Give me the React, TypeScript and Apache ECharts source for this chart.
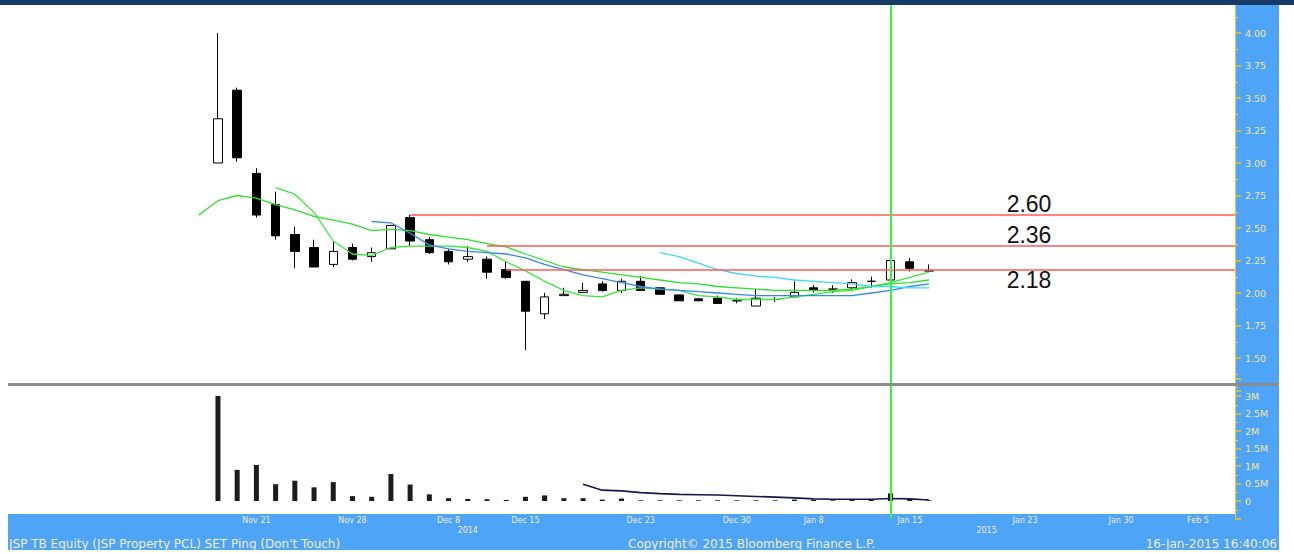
import React, { useEffect, useRef } from "react";
import * as echarts from "echarts";

// ---------- categories (trading days) ----------
const leadDates = ["Nov 5", "Nov 6", "Nov 7", "Nov 10", "Nov 11", "Nov 12", "Nov 13", "Nov 14", "Nov 17", "Nov 18"];
const tradeDates = [
  "Nov 19", "Nov 20", "Nov 21", "Nov 24", "Nov 25", "Nov 26", "Nov 27", "Nov 28",
  "Dec 1", "Dec 2", "Dec 3", "Dec 4", "Dec 8", "Dec 9", "Dec 11", "Dec 12", "Dec 15", "Dec 16",
  "Dec 17", "Dec 18", "Dec 19", "Dec 22", "Dec 23", "Dec 24", "Dec 25", "Dec 26", "Dec 29", "Dec 30",
  "Jan 5", "Jan 6", "Jan 7", "Jan 8", "Jan 9", "Jan 12", "Jan 13", "Jan 14", "Jan 15", "Jan 16",
];
const futureDates = [
  "Jan 19", "Jan 20", "Jan 21", "Jan 22", "Jan 23", "Jan 26", "Jan 27", "Jan 28", "Jan 29", "Jan 30",
  "Feb 2", "Feb 3", "Feb 4", "Feb 5", "Feb 6", "Feb 9",
];

// ---------- tick labels ----------
const dateTickLabels = ["Nov 21", "Nov 28", "Dec 8", "Dec 15", "Dec 23", "Dec 30", "Jan 8", "Jan 15", "Jan 23", "Jan 30", "Feb 5"];
const yearTickLabels: Record<string, string> = { "Dec 9": "2014", "Jan 21": "2015" };
const volumeTickLabels: Record<string, string> = { "0": "0", "0.5": "0.5M", "1": "1M", "1.5": "1.5M", "2": "2M", "2.5": "2.5M", "3": "3M" };

// ---------- OHLC (Nov 19 .. Jan 16) ----------
const opens = [3.0, 3.56, 2.92, 2.68, 2.45, 2.35, 2.22, 2.35, 2.28, 2.34, 2.58, 2.41, 2.32, 2.26, 2.26, 2.18, 2.09, 1.84, 1.98, 2.005, 2.07, 2.02, 2.09, 2.04, 1.985, 1.955, 1.96, 1.94, 1.9, 1.95, 1.97, 2.04, 2.03, 2.04, 2.09, 2.1, 2.24, 2.17];
const closes = [3.34, 3.04, 2.6, 2.44, 2.32, 2.2, 2.32, 2.26, 2.31, 2.52, 2.4, 2.31, 2.24, 2.28, 2.16, 2.12, 1.86, 1.97, 1.99, 2.02, 2.02, 2.09, 2.02, 1.99, 1.94, 1.94, 1.92, 1.94, 1.96, 1.95, 2.005, 2.02, 2.03, 2.08, 2.09, 2.25, 2.19, 2.17];
const lows = [3.0, 3.01, 2.58, 2.41, 2.19, 2.2, 2.2, 2.25, 2.24, 2.34, 2.36, 2.3, 2.22, 2.24, 2.11, 2.11, 1.56, 1.8, 1.98, 2.0, 2.01, 2.0, 2.02, 1.99, 1.94, 1.94, 1.92, 1.92, 1.9, 1.93, 1.97, 2.005, 2.0, 2.03, 2.04, 2.1, 2.165, 2.165];
const highs = [4.0, 3.58, 2.96, 2.78, 2.51, 2.41, 2.4, 2.38, 2.35, 2.52, 2.6, 2.43, 2.34, 2.36, 2.28, 2.24, 2.09, 2.0, 2.04, 2.08, 2.09, 2.11, 2.13, 2.04, 1.985, 1.96, 1.98, 1.96, 2.03, 1.97, 2.09, 2.06, 2.06, 2.105, 2.125, 2.31, 2.27, 2.22];

// ---------- volume (millions, Nov 19 .. Jan 16) ----------
const volumes = [3.0, 0.89, 1.03, 0.48, 0.58, 0.39, 0.54, 0.14, 0.12, 0.77, 0.47, 0.19, 0.08, 0.06, 0.05, 0.03, 0.12, 0.16, 0.08, 0.08, 0.04, 0.07, 0.02, 0.02, 0.02, 0.02, 0.02, 0.02, 0.02, 0.02, 0.04, 0.03, 0.02, 0.03, 0.03, 0.22, 0.06, 0.02];

// ---------- moving averages (Nov 18 .. Jan 16) ----------
const maSlow = [2.6, 2.71, 2.75, 2.73, 2.68, 2.64, 2.59, 2.56, 2.53, 2.48, 2.49, 2.48, 2.45, 2.43, 2.41, 2.38, 2.355, 2.3, 2.25, 2.2, 2.18, 2.16, 2.14, 2.12, 2.1, 2.08, 2.07, 2.05, 2.04, 2.03, 2.02, 2.02, 2.02, 2.02, 2.03, 2.05, 2.07, 2.08, 2.1];
const maFast = [null, null, null, null, 2.81, 2.76, 2.62, 2.4, 2.3, 2.29, 2.35, 2.36, 2.36, 2.36, 2.35, 2.32, 2.24, 2.17, 2.09, 2.02, 1.98, 1.97, 2.02, 2.04, 2.03, 2.02, 1.98, 1.97, 1.95, 1.95, 1.95, 1.97, 1.99, 2.01, 2.02, 2.05, 2.08, 2.12, 2.16];
const maMid = [null, null, null, null, null, null, null, null, null, 2.55, 2.54, 2.46, 2.37, 2.34, 2.32, 2.31, 2.3, 2.27, 2.22, 2.18, 2.14, 2.11, 2.08, 2.05, 2.03, 2.02, 2.01, 2.0, 1.99, 1.98, 1.98, 1.98, 1.98, 1.98, 1.98, 2.0, 2.02, 2.05, 2.07];
const maLong = [null, null, null, null, null, null, null, null, null, null, null, null, null, null, null, null, null, null, null, null, null, null, null, null, 2.31, 2.28, 2.23, 2.18, 2.15, 2.13, 2.12, 2.1, 2.09, 2.08, 2.07, 2.05, 2.05, 2.04, 2.04];
const volMa = [null, null, null, null, null, null, null, null, null, null, null, null, null, null, null, null, null, null, null, null, 0.48, 0.31, 0.29, 0.24, 0.21, 0.19, 0.18, 0.17, 0.15, 0.13, 0.11, 0.09, 0.06, 0.05, 0.05, 0.05, 0.07, 0.06, 0.03];

// ---------- price levels ----------
const levelValues = [2.6, 2.36, 2.18];
const levelStarts = ["Dec 3", "Dec 11", "Dec 12"];
const levelTexts = ["2.60", "2.36", "2.18"];
const levelLabelDy = [-11, -11, 10];
const levelLabelAt = "Jan 23";
const markerDate = "Jan 14";

const categories = [...leadDates, ...tradeDates, ...futureDates];
const lastCategory = categories[categories.length - 1];

function pad<T>(arr: T[], startName: string): (T | null)[] {
  const off = categories.indexOf(startName);
  return categories.map((_, i) => {
    const j = i - off;
    return j >= 0 && j < arr.length ? arr[j] : null;
  });
}

const candleData = pad(
  tradeDates.map((_, i) => [opens[i], closes[i], lows[i], highs[i]]),
  "Nov 19"
).map((d) => (d ? d : ["-", "-", "-", "-"]));
const volData = pad(volumes, "Nov 19").map((v) => (v == null ? "-" : v));

const BLUE = "#4ea4f6";
const AXIS_YEL = "#f2c230";
const LABEL_YEL = "#f3e6a2";
const CREAM = "#f1ecd2";
const FONT = "DejaVu Sans";

const lineSeries = (name: string, data: (number | null)[], color: string, width = 1.3, xi = 0, yi = 0) => ({
  name,
  type: "line",
  xAxisIndex: xi,
  yAxisIndex: yi,
  data: pad(data, "Nov 18"),
  showSymbol: false,
  symbol: "none",
  connectNulls: false,
  smooth: false,
  lineStyle: { color, width },
  z: 3,
});

const option: any = {
  animation: false,
  grid: [
    { left: 16.2, right: 48, top: 0.5, height: 390 },
    { left: 16.2, right: 48, top: 378.5, height: 140 },
  ],
  xAxis: [
    {
      type: "category",
      gridIndex: 0,
      data: categories,
      boundaryGap: true,
      position: "bottom",
      offset: 135,
      z: 6,
      axisLine: { show: false },
      axisTick: { show: false },
      splitLine: { show: false },
      axisLabel: {
        interval: 0,
        margin: 1,
        color: CREAM,
        fontSize: 8,
        fontFamily: FONT,
        formatter: (v: string) => yearTickLabels[v] ?? "",
      },
    },
    {
      type: "category",
      gridIndex: 1,
      data: categories,
      boundaryGap: true,
      position: "bottom",
      offset: -4.5,
      z: 6,
      axisLine: { show: false },
      axisTick: { show: true, interval: 1, length: 3, lineStyle: { color: "#ffffff", width: 1 } },
      splitLine: { show: false },
      axisLabel: {
        interval: 0,
        margin: 2,
        color: CREAM,
        fontSize: 8,
        fontFamily: FONT,
        formatter: (v: string) => (dateTickLabels.includes(v) ? v : ""),
      },
    },
  ],
  yAxis: [
    {
      type: "value",
      gridIndex: 0,
      position: "right",
      offset: -11,
      min: 1.25,
      max: 4.25,
      interval: 0.25,
      z: 6,
      splitLine: { show: false },
      axisLine: { show: true, lineStyle: { color: AXIS_YEL, width: 1 } },
      axisTick: { show: true, length: 6, lineStyle: { color: AXIS_YEL, width: 1.5 } },
      minorTick: { show: true, splitNumber: 2, length: 3, lineStyle: { color: AXIS_YEL, width: 1 } },
      axisLabel: {
        color: LABEL_YEL,
        fontSize: 9.5,
        fontFamily: FONT,
        margin: 10,
        formatter: (v: number) => (v < 1.3 || v > 4.2 ? "" : v.toFixed(2)),
      },
    },
    {
      type: "value",
      gridIndex: 1,
      position: "right",
      offset: -11,
      min: -0.5,
      max: 3.5,
      interval: 0.5,
      z: 6,
      splitLine: { show: false },
      axisLine: { show: true, lineStyle: { color: AXIS_YEL, width: 1 } },
      axisTick: { show: true, length: 6, lineStyle: { color: AXIS_YEL, width: 1.5 } },
      minorTick: { show: true, splitNumber: 2, length: 3, lineStyle: { color: AXIS_YEL, width: 1 } },
      axisLabel: {
        color: LABEL_YEL,
        fontSize: 9.5,
        fontFamily: FONT,
        margin: 10,
        formatter: (v: number) => volumeTickLabels[String(Math.round(v * 10) / 10)] ?? "",
      },
    },
  ],
  series: [
    {
      name: "JSP",
      type: "candlestick",
      xAxisIndex: 0,
      yAxisIndex: 0,
      data: candleData,
      barWidth: 9,
      z: 2,
      itemStyle: {
        color: "#ffffff",
        color0: "#000000",
        borderColor: "#000000",
        borderColor0: "#000000",
        borderColorDoji: "#000000",
        borderWidth: 1,
      },
      markLine: {
        silent: true,
        symbol: ["none", "none"],
        label: { show: false },
        animation: false,
        data: [
          ...levelValues.map((v, i) => [
            { coord: [levelStarts[i], v], lineStyle: { color: "#ff5a5a", width: 1.5, type: "solid" } },
            { coord: [lastCategory, v] },
          ]),
          { xAxis: markerDate, lineStyle: { color: "#3ef03e", width: 2, type: "solid" } },
        ],
      },
      markPoint: {
        silent: true,
        symbol: "rect",
        symbolSize: 1,
        itemStyle: { color: "rgba(0,0,0,0)" },
        data: levelValues.map((v, i) => ({
          coord: [levelLabelAt, v],
          name: levelTexts[i],
          label: {
            show: true,
            position: "inside",
            offset: [4, levelLabelDy[i]],
            formatter: levelTexts[i],
            color: "#111111",
            fontSize: 23,
            fontFamily: "Liberation Sans",
          },
        })),
      },
    },
    lineSeries("MA slow", maSlow as number[], "#2ee02e"),
    lineSeries("MA fast", maFast as any, "#39e639"),
    lineSeries("MA mid", maMid as any, "#3a86ee"),
    lineSeries("MA long", maLong as any, "#3dd8f7"),
    {
      name: "Volume",
      type: "bar",
      xAxisIndex: 1,
      yAxisIndex: 1,
      data: volData,
      barWidth: 5,
      itemStyle: { color: "#1c1c1c" },
      z: 2,
      markLine: {
        silent: true,
        symbol: ["none", "none"],
        label: { show: false },
        animation: false,
        data: [{ xAxis: markerDate, lineStyle: { color: "#3ef03e", width: 2, type: "solid" } }],
      },
    },
    lineSeries("Volume MA", volMa as any, "#17174e", 1.6, 1, 1),
  ],
  graphic: [
    { type: "rect", z: 4, silent: true, shape: { x: 1235, y: 5, width: 44, height: 509 }, style: { fill: BLUE } },
    { type: "rect", z: 4, silent: true, shape: { x: 8, y: 514, width: 1271, height: 36 }, style: { fill: BLUE } },
    { type: "rect", z: 10, silent: true, shape: { x: 0, y: 0, width: 1294, height: 5 }, style: { fill: "#173a66" } },
    { type: "rect", z: 10, silent: true, shape: { x: 8, y: 383, width: 1271, height: 3 }, style: { fill: "#8c8c8c" } },
    {
      type: "text", z: 11, silent: true,
      style: { x: 9, y: 544, text: "JSP TB Equity (JSP Property PCL) SET Ping (Don't Touch)", fill: CREAM, fontSize: 12, fontFamily: FONT, verticalAlign: "middle" },
    },
    {
      type: "text", z: 11, silent: true,
      style: { x: 628, y: 544, text: "Copyright© 2015 Bloomberg Finance L.P.", fill: CREAM, fontSize: 12, fontFamily: FONT, verticalAlign: "middle" },
    },
    {
      type: "text", z: 11, silent: true,
      style: { x: 1277, y: 544, text: "16-Jan-2015 16:40:06", fill: CREAM, fontSize: 12, fontFamily: FONT, align: "right", verticalAlign: "middle" },
    },
  ],
};

export default function App() {
  const ref = useRef<HTMLDivElement>(null);
  useEffect(() => {
    document.body.style.margin = "0";
    const chart = echarts.init(ref.current!, null, { renderer: "svg" });
    chart.setOption(option);
    return () => chart.dispose();
  }, []);
  return <div ref={ref} style={{ width: 1294, height: 554 }} />;
}
